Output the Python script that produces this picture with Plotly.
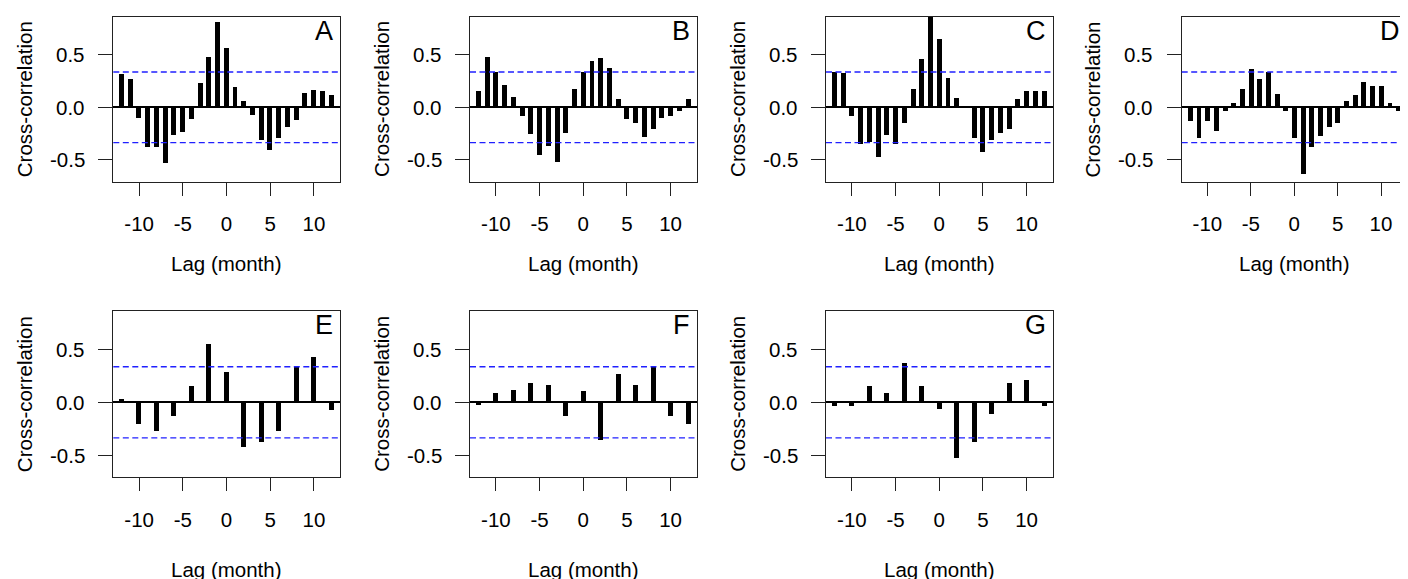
import plotly.graph_objects as go

# ---------------- data ----------------
lags_full = list(range(-12, 13))
lags_even = list(range(-12, 13, 2))

ccf_A = [0.325, 0.27, -0.10, -0.37, -0.37, -0.53, -0.26, -0.23, -0.11, 0.23, 0.48, 0.82, 0.57,
         0.20, 0.065, -0.07, -0.31, -0.40, -0.29, -0.18, -0.12, 0.14, 0.17, 0.16, 0.12]
ccf_B = [0.16, 0.48, 0.34, 0.22, 0.10, -0.08, -0.25, -0.45, -0.365, -0.52, -0.24, 0.18, 0.34,
         0.44, 0.47, 0.38, 0.08, -0.11, -0.15, -0.28, -0.20, -0.10, -0.08, -0.03, 0.08]
ccf_C = [0.34, 0.33, -0.08, -0.35, -0.33, -0.47, -0.26, -0.35, -0.15, 0.18, 0.46, 0.86, 0.65,
         0.28, 0.09, 0.02, -0.285, -0.42, -0.31, -0.24, -0.20, 0.08, 0.16, 0.16, 0.16]
ccf_D = [-0.125, -0.285, -0.125, -0.22, -0.03, 0.04, 0.18, 0.37, 0.27, 0.34, 0.13, -0.03, -0.285,
         -0.63, -0.37, -0.27, -0.18, -0.15, 0.06, 0.125, 0.24, 0.21, 0.21, 0.045, -0.035]
ccf_E = [0.03, -0.20, -0.27, -0.13, 0.15, 0.55, 0.29, -0.42, -0.375, -0.275, 0.33, 0.43, -0.07]
ccf_F = [-0.025, 0.085, 0.12, 0.18, 0.16, -0.13, 0.11, -0.36, 0.27, 0.16, 0.33, -0.13, -0.20]
ccf_G = [-0.03, -0.03, 0.15, 0.09, 0.37, 0.155, -0.06, -0.53, -0.375, -0.11, 0.18, 0.21, -0.03]

panel_labels = ["A", "B", "C", "D", "E", "F", "G"]
panel_lags = [lags_full, lags_full, lags_full, lags_full, lags_even, lags_even, lags_even]
panel_values = [ccf_A, ccf_B, ccf_C, ccf_D, ccf_E, ccf_F, ccf_G]

ci_level = 0.336
y_tickvals = [-0.5, 0.0, 0.5]
y_ticktext = ["-0.5", "0.0", "0.5"]
x_tickvals = [-10, -5, 0, 5, 10]
x_ticktext = ["-10", "-5", "0", "5", "10"]
x_title = "Lag (month)"
y_title = "Cross-correlation"

# ---------------- geometry (pixels, in page coordinates) ----------------
OFF = 8  # page body margin
W, H = 1408 - OFF, 579 - OFF
col_left = [113.3, 470.0, 826.0, 1181.7]
box_w = 226.5
row_top = [16.7, 311.0]
row_bot = [181.7, 477.3]
xlab_y = [263.5, 569.5]
FONT = "Liberation Sans, Arial, sans-serif"


def px(x):
    return (x - OFF) / W


def py(y):
    return 1 - (y - OFF) / H


fig = go.Figure()
layout = dict(width=W, height=H, margin=dict(l=0, r=0, t=0, b=0), autosize=False,
              paper_bgcolor="white", plot_bgcolor="white", showlegend=False,
              font=dict(family=FONT, size=20, color="black"), bargap=0)
annotations = []
shapes = []

for i, (lab, lags, vals) in enumerate(zip(panel_labels, panel_lags, panel_values)):
    r, c = divmod(i, 4)
    left = col_left[c]
    right = min(left + box_w, 1406.7)
    top, bot = row_top[r], row_bot[r]
    n = i + 1
    xa = "x" if n == 1 else f"x{n}"
    ya = "y" if n == 1 else f"y{n}"
    xkey = "xaxis" if n == 1 else f"xaxis{n}"
    ykey = "yaxis" if n == 1 else f"yaxis{n}"

    fig.add_trace(go.Bar(x=lags, y=vals, width=0.57, marker=dict(color="black", line=dict(width=0)),
                         xaxis=xa, yaxis=ya, hoverinfo="x+y"))

    layout[xkey] = dict(domain=[px(left), px(right)], anchor=ya, range=[-12.96, 12.96],
                        showgrid=False, zeroline=False, showline=True, mirror=True,
                        linecolor="#222222", linewidth=1.3, ticks="outside", ticklen=13,
                        tickwidth=1.3, tickcolor="#222222", tickvals=x_tickvals,
                        ticktext=x_ticktext, ticklabelstandoff=11,
                        tickfont=dict(family=FONT, size=20.5, color="black"), fixedrange=True)
    layout[ykey] = dict(domain=[py(bot), py(top)], anchor=xa, range=[-0.708, 0.863],
                        showgrid=False, zeroline=True, zerolinecolor="black", zerolinewidth=1.6,
                        showline=True, mirror=True, linecolor="#222222", linewidth=1.3,
                        ticks="outside", ticklen=14, tickwidth=1.3, tickcolor="#222222",
                        tickvals=y_tickvals, showticklabels=False, fixedrange=True)

    # y tick labels (horizontal, right-aligned, centred on ticks)
    for tv, tt in zip(y_tickvals, y_ticktext):
        annotations.append(dict(text=tt, xref="paper", yref=ya, x=px(left - 26.5), y=tv,
                                xanchor="right", yanchor="middle", showarrow=False,
                                font=dict(family=FONT, size=20.5, color="black")))

    for yv in (ci_level, -ci_level):
        shapes.append(dict(type="line", xref=f"{xa} domain", yref=ya, x0=0, x1=1, y0=yv, y1=yv,
                           line=dict(color="#2020FF", width=1.4, dash="6px,3.5px"), layer="above"))

    annotations.append(dict(text=lab, xref="paper", yref="paper", x=px(right - 4.5),
                            y=py(top + 14), xanchor="right", yanchor="middle",
                            showarrow=False, font=dict(family=FONT, size=27, color="black")))
    annotations.append(dict(text=x_title, xref="paper", yref="paper",
                            x=px(left + box_w / 2), y=py(xlab_y[r]),
                            xanchor="center", yanchor="middle", showarrow=False,
                            font=dict(family=FONT, size=20.5, color="black")))
    annotations.append(dict(text=y_title, xref="paper", yref="paper", textangle=-90,
                            x=px(left - 89.3), y=py((top + bot) / 2),
                            xanchor="center", yanchor="middle", showarrow=False,
                            font=dict(family=FONT, size=20.5, color="black")))

layout["annotations"] = annotations
layout["shapes"] = shapes
fig.update_layout(**layout)
fig.write_html("out.html")
